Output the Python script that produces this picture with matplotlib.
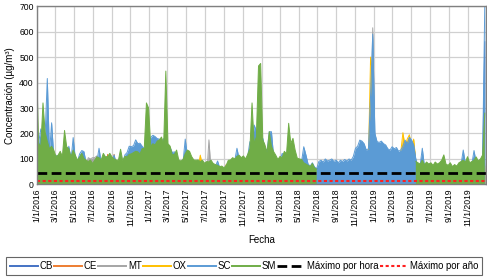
import numpy as np
import pandas as pd
import matplotlib
matplotlib.use('Agg')
import matplotlib.pyplot as plt
import matplotlib.dates as mdates
from matplotlib.ticker import FuncFormatter

plt.rcParams['font.family'] = ['Liberation Sans', 'DejaVu Sans']

# weekly peak concentrations (µg/m³), starting 1/1/2016
start = '2016-01-01'
n_weeks = 209

CB = [120, 110, 150, 140, 130, 250, 100, 160, 95, 90,
      85, 80, 78, 95, 90, 110, 80, 120, 85, 75,
      90, 100, 95, 70, 65, 62, 60, 65, 75, 100,
      70, 80, 75, 70, 80, 72, 90, 68, 70, 75,
      70, 90, 95, 110, 115, 118, 130, 120, 125, 115,
      110, 105, 120, 140, 150, 145, 140, 135, 120, 140,
      115, 110, 112, 95, 100, 90, 70, 68, 72, 130,
      90, 82, 75, 70, 65, 70, 65, 60, 58, 65,
      60, 65, 58, 55, 70, 50, 48, 50, 52, 62,
      70, 72, 75, 110, 80, 75, 80, 75, 88, 130,
      120, 180, 165, 125, 140, 140, 110, 105, 160, 160,
      90, 80, 72, 75, 95, 88, 80, 120, 95, 105,
      88, 75, 72, 74, 115, 92, 70, 65, 70, 60,
      55, 72, 75, 70, 80, 72, 75, 80, 72, 76,
      68, 75, 72, 78, 72, 80, 75, 88, 112, 120,
      140, 135, 128, 108, 112, 280, 470, 160, 135, 130,
      135, 128, 124, 112, 108, 118, 112, 116, 104, 108,
      120, 139, 128, 148, 139, 124, 80, 55, 60, 110,
      55, 60, 56, 58, 52, 56, 54, 56, 60, 64,
      56, 52, 56, 50, 54, 52, 56, 64, 105, 64,
      68, 60, 64, 105, 68, 64, 72, 88, 560]

CE = [60, 55, 58, 62, 55, 60, 50, 52, 48, 45,
      42, 40, 45, 48, 44, 46, 40, 42, 45, 40,
      38, 42, 40, 36, 35, 38, 36, 40, 42, 45,
      50, 48, 55, 118, 60, 58, 118, 52, 48, 50,
      45, 48, 50, 52, 55, 50, 48, 52, 50, 55,
      58, 60, 62, 55, 52, 50, 48, 52, 55, 50,
      55, 52, 50, 45, 48, 46, 42, 40, 44, 48,
      46, 42, 40, 38, 40, 42, 38, 36, 35, 38,
      36, 38, 35, 34, 36, 32, 34, 33, 78, 40,
      42, 45, 44, 46, 48, 45, 46, 44, 48, 50,
      55, 52, 58, 60, 56, 54, 50, 48, 52, 50,
      46, 44, 42, 44, 46, 48, 45, 50, 48, 46,
      44, 42, 40, 42, 40, 38, 36, 35, 36, 34,
      32, 34, 36, 35, 38, 36, 38, 40, 38, 40,
      36, 40, 38, 42, 40, 42, 40, 44, 46, 48,
      50, 52, 50, 48, 50, 52, 55, 50, 48, 46,
      48, 46, 44, 42, 40, 44, 42, 40, 38, 40,
      42, 44, 42, 46, 44, 40, 38, 36, 35, 36,
      34, 36, 35, 34, 32, 34, 33, 34, 36, 38,
      35, 34, 36, 33, 34, 32, 35, 36, 38, 36,
      38, 36, 38, 40, 42, 40, 44, 46, 60]

MT = [50, 48, 52, 55, 50, 52, 45, 48, 44, 42,
      40, 42, 44, 46, 42, 44, 40, 45, 48, 50,
      55, 60, 65, 70, 105, 100, 105, 105, 112, 60,
      55, 52, 50, 48, 50, 46, 48, 45, 44, 46,
      48, 50, 52, 55, 54, 56, 58, 55, 52, 54,
      56, 58, 60, 62, 64, 60, 58, 56, 55, 58,
      56, 54, 52, 50, 48, 46, 44, 42, 45, 48,
      46, 44, 42, 40, 42, 44, 42, 40, 38, 40,
      175, 45, 40, 38, 36, 35, 34, 36, 38, 40,
      42, 44, 46, 48, 50, 48, 46, 48, 50, 52,
      58, 60, 62, 64, 60, 58, 56, 54, 56, 54,
      52, 50, 48, 50, 52, 54, 52, 56, 54, 52,
      50, 48, 46, 44, 42, 40, 38, 40, 38, 36,
      38, 40, 42, 44, 46, 44, 46, 48, 46, 48,
      46, 48, 50, 52, 50, 54, 52, 56, 60, 62,
      66, 64, 62, 60, 62, 150, 615, 90, 70, 68,
      66, 64, 62, 60, 58, 60, 58, 56, 54, 56,
      58, 60, 62, 64, 62, 60, 48, 44, 42, 44,
      42, 44, 42, 40, 42, 40, 38, 40, 42, 44,
      42, 40, 38, 40, 38, 36, 38, 40, 42, 40,
      42, 44, 46, 44, 46, 48, 46, 50, 80]

OX = [40, 38, 42, 45, 40, 42, 38, 40, 36, 35,
      34, 36, 38, 40, 38, 36, 35, 38, 40, 42,
      44, 46, 48, 50, 52, 50, 48, 46, 45, 44,
      46, 48, 50, 52, 54, 52, 50, 48, 46, 45,
      44, 42, 45, 48, 46, 44, 42, 44, 46, 48,
      50, 52, 54, 50, 48, 46, 44, 46, 48, 50,
      48, 46, 44, 42, 45, 48, 50, 52, 54, 56,
      58, 60, 62, 64, 66, 70, 115, 68, 60, 56,
      52, 50, 48, 46, 44, 42, 40, 42, 44, 46,
      48, 50, 52, 54, 50, 48, 46, 44, 46, 48,
      50, 52, 54, 56, 58, 60, 56, 54, 52, 50,
      48, 46, 44, 42, 44, 46, 48, 50, 52, 54,
      56, 58, 60, 58, 56, 54, 52, 50, 48, 46,
      48, 50, 52, 54, 56, 58, 60, 62, 64, 66,
      68, 70, 72, 74, 76, 78, 80, 82, 84, 86,
      88, 90, 92, 95, 100, 500, 420, 120, 110, 115,
      108, 110, 112, 114, 116, 118, 120, 122, 124, 126,
      203, 150, 178, 195, 150, 178, 90, 60, 58, 56,
      54, 52, 50, 48, 50, 52, 54, 56, 58, 60,
      58, 56, 54, 52, 50, 48, 46, 44, 42, 44,
      46, 48, 50, 52, 54, 56, 58, 60, 70]

SC = [160, 165, 218, 180, 195, 416, 120, 242, 110, 115,
      100, 95, 90, 120, 110, 150, 95, 184, 100, 90,
      120, 133, 129, 85, 80, 75, 70, 80, 90, 142,
      85, 95, 90, 85, 95, 90, 116, 80, 85, 90,
      85, 116, 125, 150, 148, 152, 175, 160, 162, 150,
      140, 130, 150, 185, 193, 188, 180, 178, 150, 180,
      140, 140, 145, 125, 128, 110, 85, 80, 90, 178,
      110, 100, 90, 85, 80, 85, 80, 75, 70, 80,
      75, 80, 72, 70, 92, 65, 60, 62, 65, 80,
      85, 90, 95, 142, 100, 95, 100, 95, 110, 168,
      150, 233, 210, 160, 180, 181, 140, 135, 207, 207,
      110, 100, 90, 95, 122, 110, 100, 150, 120, 130,
      110, 95, 90, 92, 148, 116, 80, 72, 85, 68,
      62, 90, 95, 88, 100, 92, 95, 100, 90, 96,
      85, 95, 90, 98, 92, 100, 95, 110, 142, 150,
      174, 170, 160, 135, 140, 350, 590, 200, 168, 165,
      170, 160, 155, 140, 135, 148, 140, 145, 130, 135,
      150, 174, 160, 185, 174, 155, 100, 70, 75, 142,
      70, 75, 70, 72, 65, 70, 68, 70, 75, 80,
      70, 65, 70, 62, 68, 65, 70, 80, 135, 80,
      85, 75, 80, 133, 85, 80, 90, 110, 710]

# SM has no data from July 2018 to late May 2019
SM = [470, 160, 150, 320, 205, 170, 140, 150, 135, 110,
      115, 130, 110, 212, 148, 140, 108, 135, 115, 95,
      108, 122, 102, 95, 90, 96, 82, 95, 108, 105,
      96, 122, 108, 110, 122, 108, 100, 96, 95, 138,
      94, 110, 108, 118, 120, 125, 130, 128, 120, 140,
      142, 320, 300, 150, 160, 155, 170, 175, 186, 160,
      445, 160, 150, 116, 118, 135, 96, 92, 98, 120,
      135, 130, 109, 96, 95, 96, 90, 95, 83, 90,
      88, 95, 82, 78, 75, 70, 72, 65, 75, 95,
      96, 105, 100, 110, 115, 105, 112, 100, 118, 140,
      320, 160, 187, 465, 475, 175, 155, 125, 207, 150,
      129, 115, 98, 110, 105, 130, 120, 240, 161, 181,
      135, 103, 100, 98, 85, 80, 75, 70, 82, 65,
      60] + [None] * 45 + [
      90, 85, 80, 95, 78, 88, 80, 85, 75, 88,
      80, 85, 95, 116, 80, 75, 85, 70, 78, 72,
      85, 90, 95, 88, 109, 85, 90, 95, 108, 92,
      100, 116, 280]

max_hora = 45
max_anio = 12

names = ['CB', 'CE', 'MT', 'OX', 'SC', 'SM']
colors = ['#4472C4', '#ED7D31', '#A5A5A5', '#FFC000', '#5B9BD5', '#70AD47']
series = [CB, CE, MT, OX, SC, SM]

dates = pd.date_range(start, periods=n_weeks, freq='7D')

fig = plt.figure(figsize=(4.87, 2.79), dpi=100)
ax = fig.add_axes([0.075, 0.339, 0.923, 0.639])

# later stations are drawn over earlier ones
for i, (name, col, vals) in enumerate(zip(names, colors, series)):
    v = np.array([np.nan if x is None else x for x in vals], dtype=float)
    ax.fill_between(dates, 0, v, color=col, lw=0, zorder=2 + i)
    ax.plot(dates, v, color=col, lw=0.7, label=name, zorder=2.5 + i)

ax.axhline(max_hora, color='black', lw=2, dashes=(3.5, 1.6), label='Máximo por hora', zorder=10)
ax.axhline(max_anio, color='#FF2020', lw=1.5, dashes=(1.5, 1.2), label='Máximo por año', zorder=10)

ax.set_ylim(0, 700)
ax.set_yticks(range(0, 701, 100))
ax.set_xlim(pd.Timestamp('2016-01-01'), pd.Timestamp('2019-12-31'))
ax.xaxis.set_major_locator(mdates.MonthLocator(bymonth=[1, 3, 5, 7, 9, 11]))
ax.xaxis.set_major_formatter(FuncFormatter(
    lambda x, pos: '{d.month}/{d.day}/{d.year}'.format(d=mdates.num2date(x))))
ax.tick_params(axis='x', rotation=90, labelsize=6.2, length=0, pad=3)
ax.tick_params(axis='y', labelsize=6.2, length=0, pad=2)
ax.grid(True, color='#D0D0D0', lw=0.9, zorder=0)
ax.set_axisbelow(True)
for s in ax.spines.values():
    s.set_color('#808080')
    s.set_linewidth(1)
    s.set_zorder(12)

ax.set_xlabel('Fecha', fontsize=7, labelpad=6)
ax.set_ylabel('Concentración (µg/m³)', fontsize=7, labelpad=3)

leg = fig.legend(loc='center', bbox_to_anchor=(0.501, 0.047), ncol=8, fontsize=6.9,
                 handlelength=2.9, handletextpad=0.2, columnspacing=0.12,
                 frameon=True, fancybox=False, borderpad=0.45)
leg.get_frame().set_edgecolor('#404040')
leg.get_frame().set_linewidth(0.8)
for h in leg.legend_handles[:6]:
    h.set_linewidth(1.4)

fig.savefig('out.png', dpi=100)
